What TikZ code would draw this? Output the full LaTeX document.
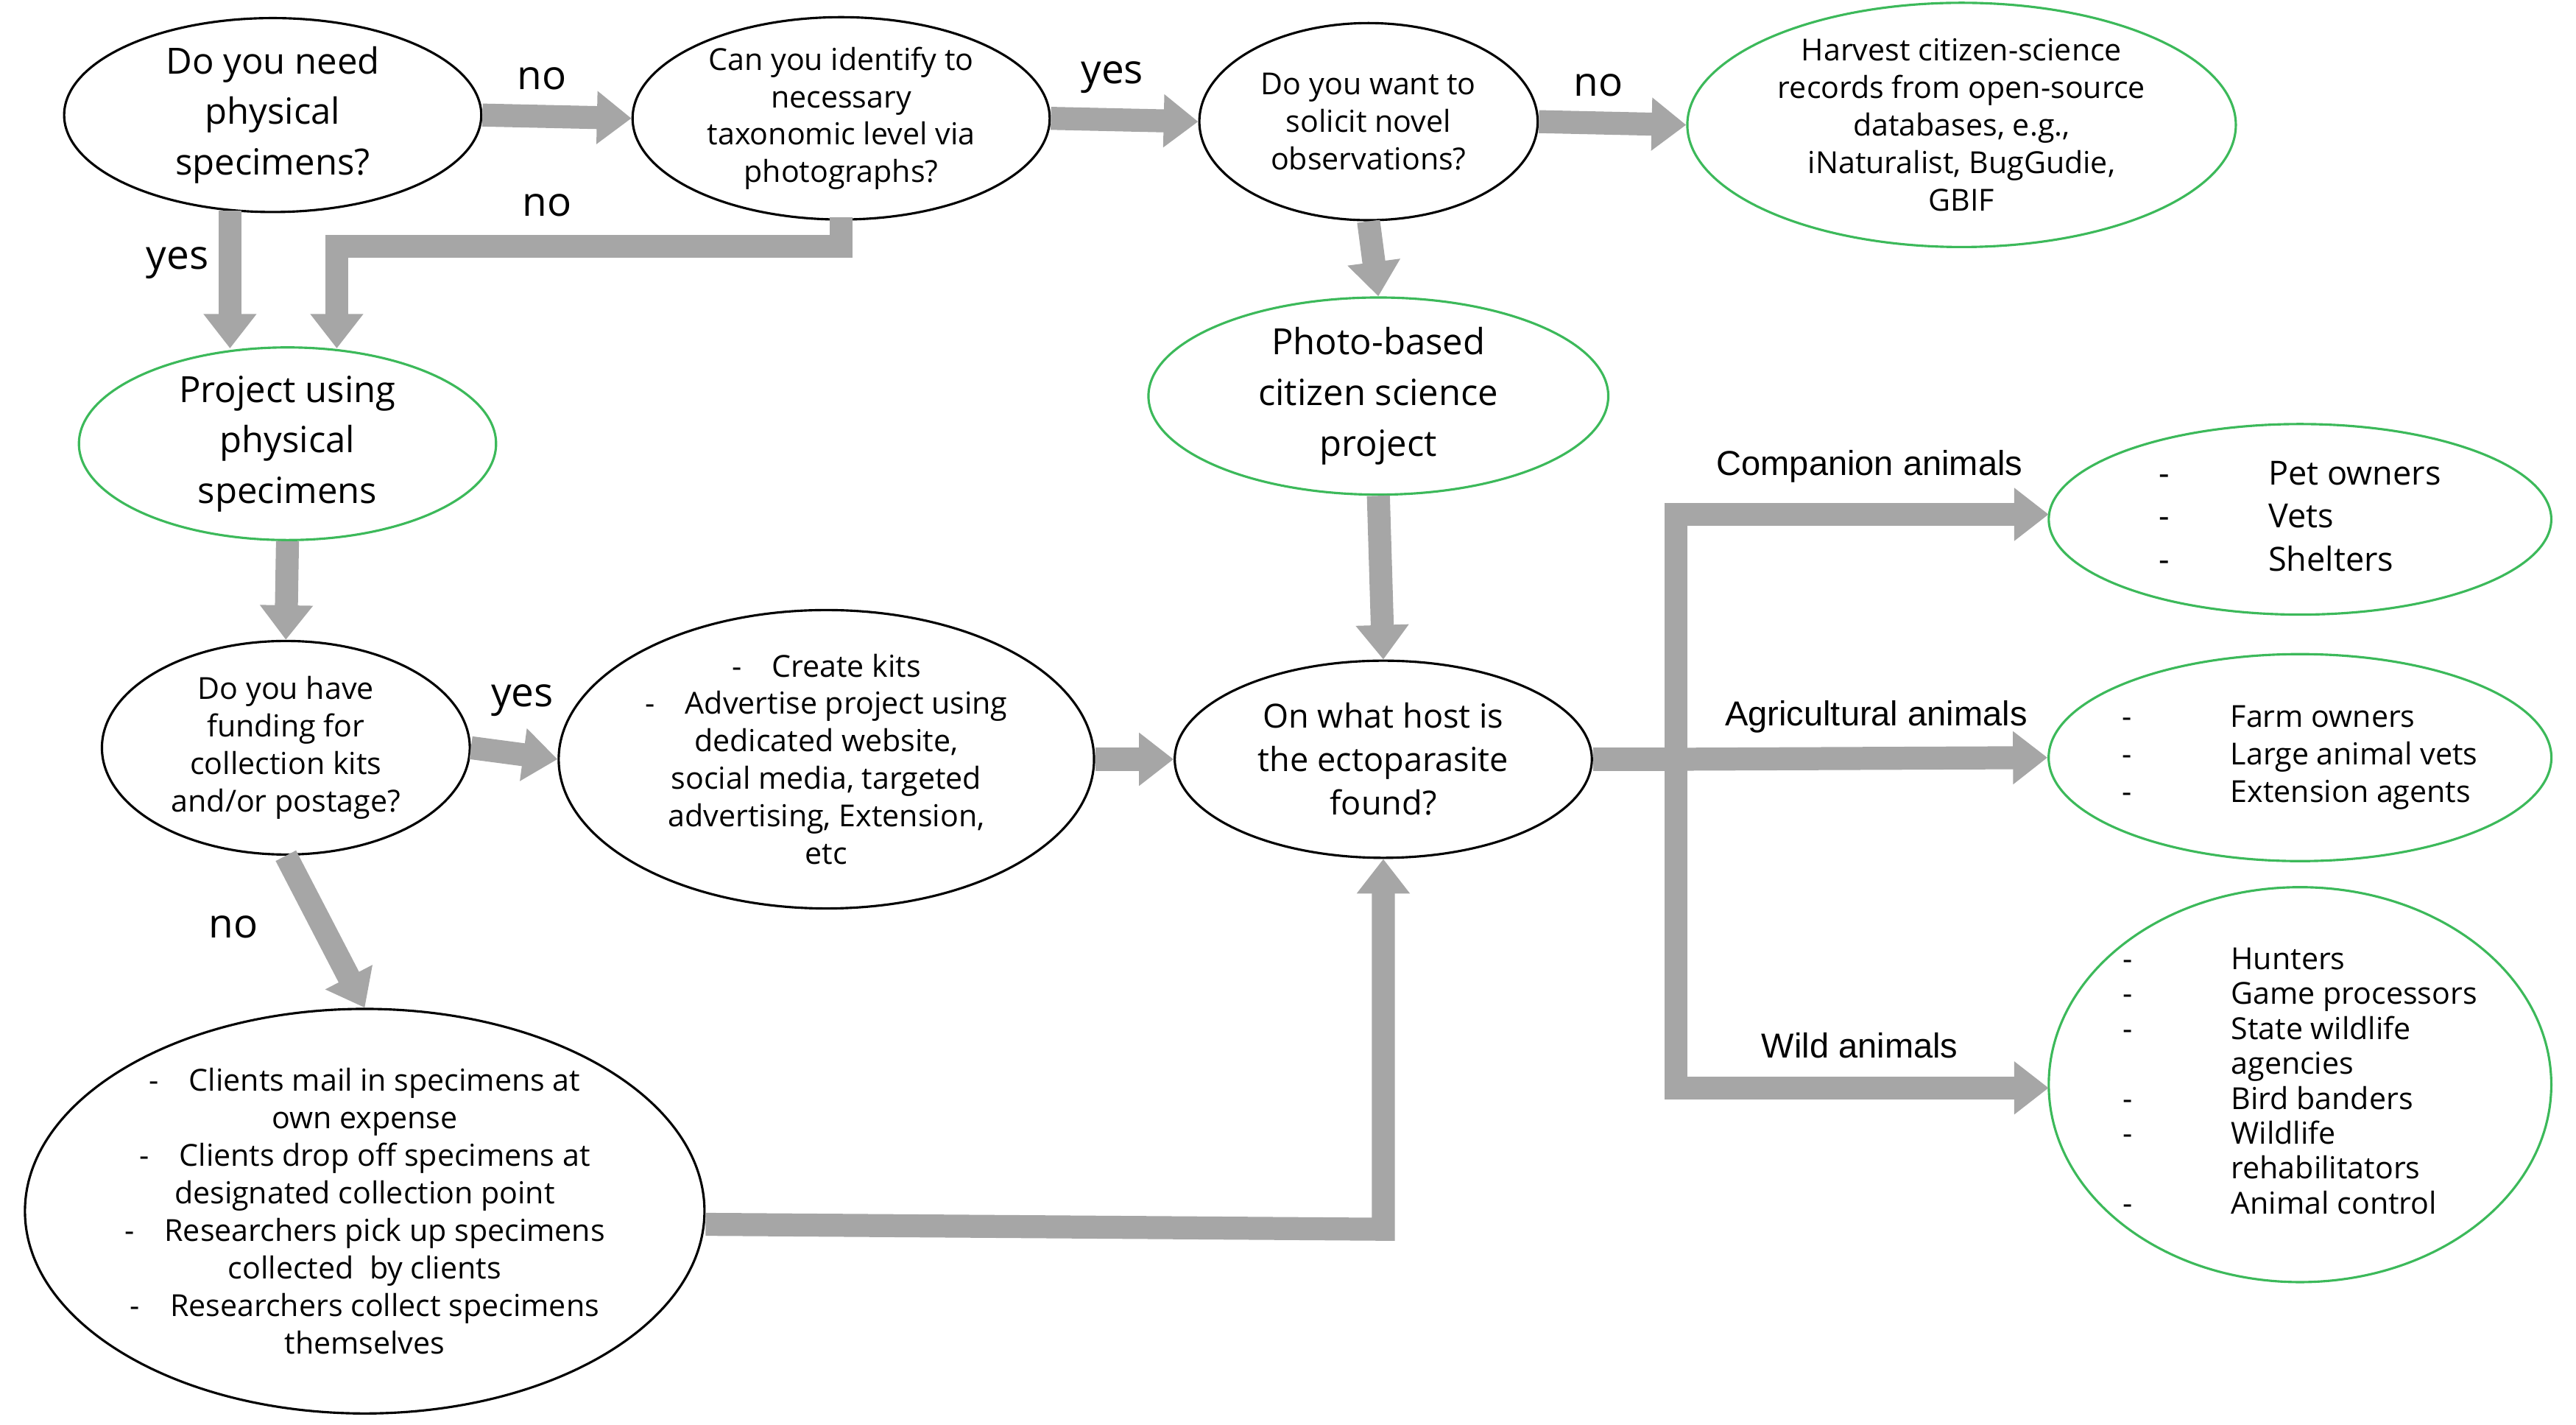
\documentclass[tikz,border=0pt]{standalone}
\usepackage{fontspec}
\setmainfont{Open Sans}
\newfontfamily\arialf{Liberation Sans}
\usetikzlibrary{shapes.geometric,arrows.meta}
\definecolor{ggreen}{HTML}{3CB95A}
\definecolor{agray}{HTML}{A6A6A6}
\begin{document}
\begin{tikzpicture}[x=0.02cm,y=-0.02cm,
  E/.style 2 args={ellipse,draw,line width=0.8pt,inner sep=0pt,align=center,minimum width=#1*0.04cm,minimum height=#2*0.04cm},
  G/.style 2 args={E={#1}{#2},draw=ggreen},
  big/.style={font=\fontsize{12.5}{17.5}\selectfont},
  mid/.style={font=\fontsize{10.5}{13}\selectfont},
  arr/.style={draw=agray,line width=0.28cm,-{Triangle[length=0.42cm,width=0.62cm]}},
  lab/.style={font=\fontsize{14}{16}\selectfont},
  alab/.style={font=\arialf\fontsize{12}{14}\selectfont}]
\useasboundingbox (0,0) rectangle (1568,867);
\node[E={127}{58},big] (e1) at (166,70) {Do you need\\physical\\specimens?};
\node[E={127}{60},mid] (e2) at (512,72) {Can you identify to\\necessary\\taxonomic level via\\photographs?};
\node[E={103}{60},mid] (e3) at (833,74) {Do you want to\\solicit novel\\observations?};
\node[G={167}{60},mid] (e4) at (1194,76) {Harvest citizen-science\\records from open-source\\databases, e.g.,\\iNaturalist, BugGudie,\\GBIF};
\node[G={127}{58},big] (e5) at (175,270) {Project using\\physical\\specimens};
\node[G={140}{60},big] (e6) at (839,241) {Photo-based\\citizen science\\project};
\node[E={112}{65},mid] (e7) at (174,455) {Do you have\\funding for\\collection kits\\and/or postage?};
\node[E={163}{76},mid] (e8) at (503,462) {-\quad Create kits\\-\quad Advertise project using\\dedicated website,\\social media, targeted\\advertising, Extension,\\etc};
\node[E={127}{60},font=\fontsize{11.5}{15}\selectfont] (e9) at (842,462) {On what host is\\the ectoparasite\\found?};
\node[E={206}{120},mid] (e10) at (222,737) {-\quad Clients mail in specimens at\\own expense\\-\quad Clients drop off specimens at\\designated collection point\\-\quad Researchers pick up specimens\\collected\ \ by clients\\-\quad Researchers collect specimens\\themselves};
\node[G={153}{58},font=\fontsize{11.5}{15}\selectfont] (g1) at (1400,316) {\begin{tabular}{@{}l@{\hspace{1.2cm}}l@{}}-&Pet owners\\-&Vets\\-&Shelters\end{tabular}};
\node[G={153}{63},mid] (g2) at (1400,461) {\begin{tabular}{@{}l@{\hspace{1.2cm}}l@{}}-&Farm owners\\-&Large animal vets\\-&Extension agents\end{tabular}};
\node[G={153}{115},mid] (g3) at (1400,660) {\renewcommand{\arraystretch}{0.93}\begin{tabular}{@{}l@{\hspace{1.2cm}}l@{}}-&Hunters\\-&Game processors\\-&State wildlife\\&agencies\\-&Bird banders\\-&Wildlife\\&rehabilitators\\-&Animal control\end{tabular}};
% connectors
\draw[arr] (e1.east) -- (e2.west);
\draw[arr] (e2.east) -- (e3.west);
\draw[arr] (e3.east) -- (e4.west);
\draw[arr] (140,128) -- (140,212);
\draw[arr] (512,132) -- (512,150) -- (205,150) -- (205,212);
\draw[arr] (e3.south) -- (e6.north);
\draw[arr] (e5.south) -- (e7.north);
\draw[arr] (e7.east) -- (e8.west);
\draw[arr] (e8.east) -- (e9.west);
\draw[arr] (e6.south) -- (e9.north);
\draw[arr] (e7.south) -- (e10.north);
\draw[arr] (e10.east |- 0,745) -- (842,748) -- (e9.south);
\coordinate (tr) at (1020,462);
\draw[draw=agray,line width=0.28cm] (e9.east) -- (tr);
\draw[arr] (tr) -- (1020,313) -- (1247,313);
\draw[arr] (tr) -- (g2.west);
\draw[arr] (tr) -- (1020,662) -- (1247,662);
% labels
\node[lab] at (330,48) {no};
\node[lab] at (677,47) {yes};
\node[lab] at (973,52) {no};
\node[lab] at (108,160) {yes};
\node[lab] at (333,125) {no};
\node[lab] at (318,426) {yes};
\node[lab] at (142,564) {no};
\node[alab] at (1138,284) {Companion animals};
\node[alab] at (1142,436) {Agricultural animals};
\node[alab] at (1132,636) {Wild animals};
\end{tikzpicture}
\end{document}
